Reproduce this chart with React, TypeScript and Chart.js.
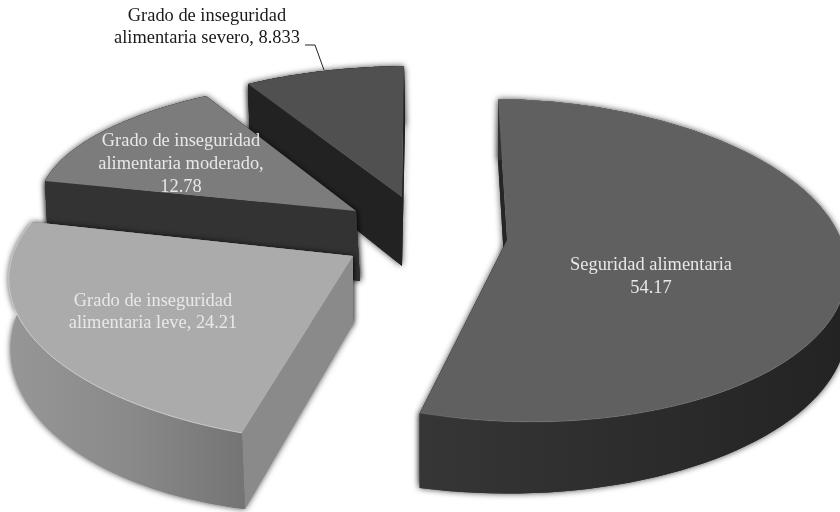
import React, { useEffect, useRef } from "react";
import { Chart, registerables } from "chart.js";

Chart.register(...registerables);

// ---- data ----
const categories = [
  "Seguridad alimentaria",
  "Grado de inseguridad alimentaria leve",
  "Grado de inseguridad alimentaria moderado",
  "Grado de inseguridad alimentaria severo",
];
const values = [54.17, 24.21, 12.78, 8.833];
const valueLabels = ["54.17", "24.21", "12.78", "8.833"];
const topColors = ["#606060", "#ababab", "#7c7c7c", "#505050"];

// ---- look of the 3D slices ----
type Pt = [number, number];
type Look = {
  anchors: number[];
  top: Pt[];
  bottom: Pt[];
  wallFrom: string;
  wallTo: string;
  face: string;
  rim: string;
};
// anchors: pie angles (deg) whose projected rim points are given; the first Pt is the apex.
const looks: Look[] = [
  {
    anchors: [0, 97.5, 195],
    top: [[507, 240], [498, 99], [847, 266], [420, 413]],
    bottom: [[507, 310], [498, 160], [847, 328], [420, 488]],
    wallFrom: "#363636",
    wallTo: "#232323",
    face: "#262626",
    rim: "rgba(255,255,255,0.12)",
  },
  {
    anchors: [195, 238.6, 282.2],
    top: [[353, 256], [242, 433], [34, 339], [32, 222]],
    bottom: [[353, 324], [245, 509], [40, 420], [36, 282]],
    wallFrom: "#929292",
    wallTo: "#747474",
    face: "#8a8a8a",
    rim: "rgba(255,255,255,0.45)",
  },
  {
    anchors: [282.2, 305.2, 328.2],
    top: [[356, 211], [45, 181], [100, 133], [206, 96]],
    bottom: [[360, 281], [48, 241], [103, 193], [208, 156]],
    wallFrom: "#333333",
    wallTo: "#333333",
    face: "#333333",
    rim: "rgba(255,255,255,0)",
  },
  {
    anchors: [328.2, 344.1, 360],
    top: [[402, 197], [248, 84], [323, 71], [404, 66]],
    bottom: [[402, 266], [250, 145], [325, 131], [405, 126]],
    wallFrom: "#222222",
    wallTo: "#222222",
    face: "#222222",
    rim: "rgba(255,255,255,0)",
  },
];
const paintOrder = [3, 2, 1, 0];

const labelLayouts = [
  { x: 651, ys: [265, 288], color: "#e8e8e8", lines: () => [categories[0], valueLabels[0]] },
  { x: 153, ys: [301, 323], color: "#e8e8e8", lines: () => ["Grado de inseguridad", `alimentaria leve, ${valueLabels[1]}`] },
  { x: 181, ys: [141, 164, 187], color: "#e8e8e8", lines: () => ["Grado de inseguridad", "alimentaria moderado,", valueLabels[2]] },
  { x: 207, ys: [16, 38], color: "#1a1a1a", lines: () => ["Grado de inseguridad", `alimentaria severo, ${valueLabels[3]}`] },
];

// ---- projective mapping from the unit pie to the page ----
function solve(A: number[][], b: number[]): number[] {
  const n = b.length;
  const M = A.map((r, i) => [...r, b[i]]);
  for (let c = 0; c < n; c++) {
    let p = c;
    for (let r = c + 1; r < n; r++) if (Math.abs(M[r][c]) > Math.abs(M[p][c])) p = r;
    [M[c], M[p]] = [M[p], M[c]];
    for (let r = 0; r < n; r++) {
      if (r === c) continue;
      const f = M[r][c] / M[c][c];
      for (let k = c; k <= n; k++) M[r][k] -= f * M[c][k];
    }
  }
  return M.map((r, i) => r[n] / r[i]);
}
const unit = (deg: number): Pt => {
  const a = (deg * Math.PI) / 180;
  return [Math.sin(a), -Math.cos(a)];
};
function homography(src: Pt[], dst: Pt[]) {
  const A: number[][] = [];
  const b: number[] = [];
  src.forEach(([x, y], i) => {
    const [X, Y] = dst[i];
    A.push([x, y, 1, 0, 0, 0, -x * X, -y * X]);
    b.push(X);
    A.push([0, 0, 0, x, y, 1, -x * Y, -y * Y]);
    b.push(Y);
  });
  const h = solve(A, b);
  return ([x, y]: Pt): Pt => {
    const w = h[6] * x + h[7] * y + 1;
    return [(h[0] * x + h[1] * y + h[2]) / w, (h[3] * x + h[4] * y + h[5]) / w];
  };
}

function path(ctx: CanvasRenderingContext2D, pts: Pt[]) {
  ctx.beginPath();
  pts.forEach(([x, y], i) => (i ? ctx.lineTo(x, y) : ctx.moveTo(x, y)));
  ctx.closePath();
}

const pie3d = {
  id: "pie3d",
  beforeDatasetDraw(chart: any, args: any) {
    const ctx: CanvasRenderingContext2D = chart.ctx;
    const arcs = chart.getDatasetMeta(args.index).data;
    ctx.save();
    for (const i of paintOrder) {
      const look = looks[i];
      const arc = arcs[i];
      const s = ((arc.startAngle + Math.PI / 2) * 180) / Math.PI;
      const e = ((arc.endAngle + Math.PI / 2) * 180) / Math.PI;
      const src: Pt[] = [[0, 0], ...look.anchors.map(unit)];
      const T = homography(src, look.top);
      const B = homography(src, look.bottom);
      const rimU: Pt[] = [];
      const N = 90;
      for (let k = 0; k <= N; k++) rimU.push(unit(s + ((e - s) * k) / N));
      const rimT = rimU.map(T);
      const rimB = rimU.map(B);
      const aT = T([0, 0]);
      const aB = B([0, 0]);
      const startFace: Pt[] = [aT, rimT[0], rimB[0], aB];
      const endFace: Pt[] = [aT, rimT[N], rimB[N], aB];
      const wall: Pt[] = [...rimT, ...[...rimB].reverse()];
      const xs = rimT.map((p) => p[0]);
      const grad = ctx.createLinearGradient(Math.min(...xs), 0, Math.max(...xs), 0);
      grad.addColorStop(0, look.wallFrom);
      grad.addColorStop(1, look.wallTo);
      const wallFill = i === 1
        ? (() => {
            const g = ctx.createLinearGradient(10, 0, 245, 0);
            g.addColorStop(0, "#969696");
            g.addColorStop(0.5, "#8a8a8a");
            g.addColorStop(1, "#747474");
            return g;
          })()
        : grad;

      // soft shadow round the walls
      ctx.shadowColor = "rgba(0,0,0,0.75)";
      ctx.shadowBlur = 6;
      ctx.fillStyle = look.face;
      path(ctx, startFace);
      ctx.fill();
      path(ctx, endFace);
      ctx.fill();
      ctx.fillStyle = wallFill;
      path(ctx, wall);
      ctx.fill();
      ctx.shadowColor = "transparent";
      ctx.shadowBlur = 0;

      // walls again, without the shadow falling across them
      ctx.fillStyle = look.face;
      path(ctx, startFace);
      ctx.fill();
      path(ctx, endFace);
      ctx.fill();
      ctx.fillStyle = wallFill;
      path(ctx, wall);
      ctx.fill();

      // top surface
      ctx.fillStyle = arc.options.backgroundColor;
      path(ctx, [aT, ...rimT]);
      ctx.fill();
      ctx.strokeStyle = look.rim;
      ctx.lineWidth = 1;
      ctx.beginPath();
      rimT.forEach(([x, y], k) => (k ? ctx.lineTo(x, y) : ctx.moveTo(x, y)));
      ctx.stroke();
    }
    ctx.restore();
    return false;
  },
  afterDatasetsDraw(chart: any) {
    const ctx: CanvasRenderingContext2D = chart.ctx;
    ctx.save();
    ctx.strokeStyle = "#222222";
    ctx.lineWidth = 1;
    ctx.beginPath();
    ctx.moveTo(305, 45);
    ctx.lineTo(315, 45);
    ctx.lineTo(324, 70);
    ctx.stroke();
    ctx.font = "18.4px 'Liberation Serif'";
    ctx.textAlign = "center";
    ctx.textBaseline = "middle";
    labelLayouts.forEach((l) => {
      ctx.fillStyle = l.color;
      l.lines().forEach((t, i) => ctx.fillText(t, l.x, l.ys[i]));
    });
    ctx.restore();
  },
};

export default function App() {
  const ref = useRef<HTMLCanvasElement>(null);
  useEffect(() => {
    const chart = new Chart(ref.current!, {
      type: "pie",
      data: {
        labels: categories,
        datasets: [{ data: values, backgroundColor: topColors, borderWidth: 0 }],
      },
      options: {
        animation: false,
        responsive: false,
        plugins: { legend: { display: false }, tooltip: { enabled: false } },
      },
      plugins: [pie3d],
    } as any);
    return () => chart.destroy();
  }, []);
  return (
    <canvas
      ref={ref}
      width={840}
      height={512}
      style={{ position: "fixed", left: 0, top: 0, width: 840, height: 512, background: "#ffffff" }}
    />
  );
}
